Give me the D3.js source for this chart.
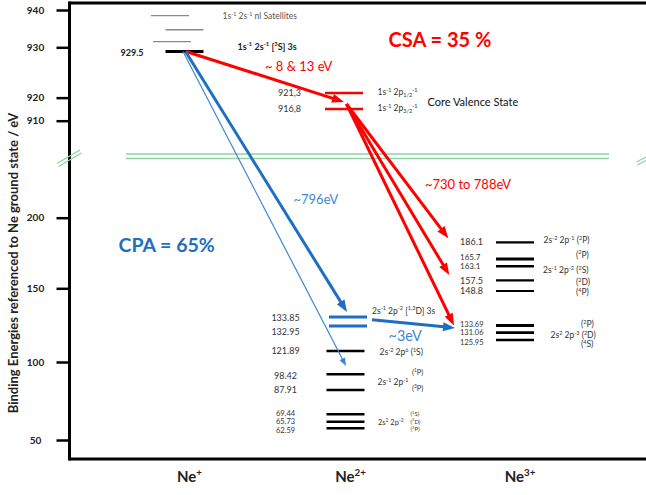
<!DOCTYPE html>
<html><head><meta charset="utf-8">
<script src="https://cdn.jsdelivr.net/npm/d3@7"></script>
<style>body{margin:0;background:#fff}svg{display:block;font-family:Lato,"Open Sans",sans-serif}</style>
</head><body><svg id="c" width="646" height="495"></svg>
<script>
// ================= DATA =================
const ions = ["Ne+", "Ne2+", "Ne3+"];
const ionLabels = ["Ne^{+}", "Ne^{2+}", "Ne^{3+}"];
const upperTicks = [910, 920, 930, 940];
const lowerTicks = [50, 100, 150, 200];

const satelliteEnergies = [938.5, 934.7, 931.5];
const ne1Energies = [929.5];
const ne1Labels = ["929.5"];
const coreValenceEnergies = [921.3, 916.8];
const coreValenceLabels = ["921,3", "916,8"];
const coreValenceConfigs = ["1s^{-1} 2p_{1/2}^{-1}", "1s^{-1} 2p_{3/2}^{-1}"];
const ne2DoubleEnergies = [133.85, 132.95];
const ne2Energies = [121.89, 98.42, 87.91, 69.44, 65.73, 62.59];
const ne3Energies = [186.1, 165.7, 163.1, 157.5, 148.8, 133.69, 131.06, 125.95];

const ne2Configs = [
  {e: 133.85, text: "2s^{-1} 2p^{-2} [^{1,3}D] 3s"},
  {e: 121.89, text: "2s^{-2} 2p^{6} (^{1}S)"},
  {e: 98.42,  text: "(^{1}P)"},
  {e: 93.0,   text: "2s^{-1} 2p^{-1}"},
  {e: 87.91,  text: "(^{3}P)"},
  {e: 65.73,  text: "2s^{2} 2p^{-2}"},
  {e: 69.44,  text: "(^{1}S)"},
  {e: 65.73,  text: "(^{1}D)"},
  {e: 62.59,  text: "(^{3}P)"}
];
const ne3Configs = [
  {e: 186.1,  text: "2s^{-2} 2p^{-1} (^{2}P)"},
  {e: 165.7,  text: "(^{2}P)"},
  {e: 163.1,  text: "2s^{-1} 2p^{-2} (^{2}S)"},
  {e: 157.5,  text: "(^{2}D)"},
  {e: 148.8,  text: "(^{4}P)"},
  {e: 133.69, text: "(^{2}P)"},
  {e: 131.06, text: "2s^{2} 2p^{-3} (^{2}D)"},
  {e: 125.95, text: "(^{4}S)"}
];

// arrows: [fromIon, fromEnergy, toIon, toEnergy]
const csaArrows = [
  ["Ne+", 929.5, "Ne2+", 918.8],
  ["Ne2+", 918.2, "Ne3+", 188.4],
  ["Ne2+", 918.2, "Ne3+", 159.6],
  ["Ne2+", 918.2, "Ne3+", 133.69]
];
const cpaArrows = [
  ["Ne+", 929.5, "Ne2+", 136.7, "thick"],
  ["Ne+", 929.5, "Ne2+", 99.5, "thin"],
  ["Ne2+", 133.8, "Ne3+", 132.4, "thick"]
];

// ================= LAYOUT =================
const svg = d3.select("#c");
const RED = "#ff0000", BLUE = "#1e6fc2", LBLUE = "#3d8ad8", TXT = "#333";
const axisX = 69.5, topY = 3, bottomY = 459, rightX = 646;

const x = d3.scaleOrdinal().domain(ions).range([184.5, 345.5, 515]);
// schematic (non-proportional) energy axes as drawn in the original
const yTop = d3.scaleLinear()
  .domain([910, 916.8, 921.3, 929.5, 930, 940])
  .range([120.7, 109, 93, 51.5, 47.3, 10]);
const yBot = d3.scaleLinear()
  .domain([50, 62.59, 65.73, 69.44, 87.91, 98.42, 100, 121.89, 125.95, 131.06, 132.95, 133.69, 133.85, 148.8, 150, 157.5, 163.1, 165.7, 186.1, 200])
  .range([440, 428.3, 421.7, 414.3, 390, 374.3, 362, 351, 340, 332.7, 326, 325.5, 317, 291, 288.3, 280.3, 266.3, 259, 242.3, 217.7]);
const y = e => e > 500 ? yTop(e) : yBot(e);

function rich(g, str, o) {
  const size = o.size;
  const t = g.append("text").attr("x", o.x).attr("y", o.y + size * 0.35)
    .attr("font-size", size).attr("text-anchor", o.anchor || "start")
    .attr("font-weight", o.weight || "normal").attr("fill", o.fill || TXT);
  const parts = str.split(/(\^\{[^}]*\}|_\{[^}]*\})/).filter(s => s.length);
  let shift = 0;
  parts.forEach(p => {
    let target = 0, fs = size, txt = p;
    if (p.startsWith("^{")) { target = -size * 0.4; fs = size * 0.65; txt = p.slice(2, -1); }
    else if (p.startsWith("_{")) { target = size * 0.22; fs = size * 0.65; txt = p.slice(2, -1); }
    t.append("tspan").attr("dy", (target - shift).toFixed(2)).attr("font-size", fs).text(txt);
    shift = target;
  });
  return t;
}

// ---- frame ----
svg.append("line").attr("x1", axisX).attr("x2", rightX).attr("y1", topY).attr("y2", topY)
  .attr("stroke", "#000").attr("stroke-width", 3);
svg.append("line").attr("x1", axisX).attr("x2", rightX).attr("y1", bottomY).attr("y2", bottomY)
  .attr("stroke", "#000").attr("stroke-width", 3);
svg.append("line").attr("x1", axisX).attr("x2", axisX).attr("y1", topY - 1.5).attr("y2", bottomY + 1.5)
  .attr("stroke", "#000").attr("stroke-width", 3);

// ---- y axes ----
function styleAxis(g) {
  g.select(".domain").remove();
  g.selectAll(".tick line").attr("stroke", "#000").attr("stroke-width", 2.5);
  g.selectAll(".tick text").attr("x", -34).attr("text-anchor", "middle")
    .attr("font-size", 10).attr("font-weight", "bold").attr("fill", "#222")
    .attr("font-family", "Lato, sans-serif");
}
svg.append("g").attr("transform", `translate(${axisX},0)`)
  .call(d3.axisLeft(yTop).tickValues(upperTicks).tickSize(13).tickFormat(d3.format("d"))).call(styleAxis);
svg.append("g").attr("transform", `translate(${axisX},0)`)
  .call(d3.axisLeft(yBot).tickValues(lowerTicks).tickSize(13).tickFormat(d3.format("d"))).call(styleAxis);

// y axis title
svg.append("text").attr("transform", "translate(12.5,263) rotate(-90)")
  .attr("text-anchor", "middle").attr("dominant-baseline", "central")
  .attr("font-size", 13).attr("font-weight", "bold").attr("fill", "#222")
  .text("Binding Energies referenced to Ne ground state / eV");

// ---- axis break ----
const GREEN = "#8ed3a5";
[154, 158.5].forEach(by => svg.append("line").attr("x1", 126).attr("x2", 609)
  .attr("y1", by).attr("y2", by).attr("stroke", GREEN).attr("stroke-width", 1.4));
[[57, 163.5, 80, 150], [58.5, 166.5, 81.5, 153]].forEach(s => svg.append("line")
  .attr("x1", s[0]).attr("y1", s[1]).attr("x2", s[2]).attr("y2", s[3]).attr("stroke", GREEN).attr("stroke-width", 1.4));
[[636.5, 162, 646, 157], [637.5, 165, 646, 160.5]].forEach(s => svg.append("line")
  .attr("x1", s[0]).attr("y1", s[1]).attr("x2", s[2]).attr("y2", s[3]).attr("stroke", GREEN).attr("stroke-width", 1.4));

// ---- ion labels ----
ions.forEach((ion, i) => rich(svg, ionLabels[i], {x: x(ion) + 5, y: 477, size: 15, anchor: "middle", weight: "bold", fill: "#222"}));

// ---- levels ----
const HW = 19;
function level(ion, e, color, w, dx = 0) {
  svg.append("line").attr("x1", x(ion) - HW + dx).attr("x2", x(ion) + HW + dx)
    .attr("y1", y(e)).attr("y2", y(e)).attr("stroke", color).attr("stroke-width", w);
}
const satShift = [-14.5, 0, -12.5];
satelliteEnergies.forEach((e, i) => level("Ne+", e, "#8a8a8a", 1.3, satShift[i]));
ne1Energies.forEach(e => level("Ne+", e, "#000", 3));
coreValenceEnergies.forEach(e => level("Ne2+", e, RED, 2.5, -1.5));
ne2DoubleEnergies.forEach(e => level("Ne2+", e, BLUE, 3, 2.5));
ne2Energies.forEach(e => level("Ne2+", e, "#000", 2.6));
const ne3W = [2.2, 3, 2.4, 2.2, 2.2, 2.8, 2.8, 2.4];
ne3Energies.forEach((e, i) => level("Ne3+", e, "#000", ne3W[i]));

// ---- numeric labels ----
ne1Energies.forEach((e, i) => rich(svg, ne1Labels[i], {x: x("Ne+") - 41, y: y(e) + 1.8, size: 9, anchor: "end", weight: "bold", fill: "#222"}));
coreValenceEnergies.forEach((e, i) => rich(svg, coreValenceLabels[i], {x: x("Ne2+") - 67.5, y: y(e) - 0.5, size: 9}));
coreValenceEnergies.forEach((e, i) => rich(svg, coreValenceConfigs[i], {x: x("Ne2+") + 32, y: y(e) - 0.8, size: 8.5}));
rich(svg, "Core Valence State", {x: x("Ne2+") + 82, y: (y(coreValenceEnergies[0]) + y(coreValenceEnergies[1])) / 2 + 1.5, size: 11, fill: "#111"});
rich(svg, "1s^{-1} 2s^{-1} nl Satellites", {x: x("Ne+") + 38, y: y(satelliteEnergies[0]) + 0.5, size: 8.5, fill: "#555"});
rich(svg, "1s^{-1} 2s^{-1} [^{3}S] 3s", {x: x("Ne+") + 53, y: y(ne1Energies[0]) - 4.8, size: 9, weight: "bold", fill: "#222"});

const ne2Nums = ne2DoubleEnergies.concat(ne2Energies);
const ne2NumDy = [0.5, 6, 0.3, 1.4, 0.3, -1, 0, 2.5];
const ne2NumSize = [9, 9, 9, 9, 9, 7.5, 7.5, 7.5];
ne2Nums.forEach((e, i) => rich(svg, d3.format(".2f")(e), {x: x("Ne2+") - 60, y: y(e) + ne2NumDy[i], size: ne2NumSize[i], anchor: "middle"}));
const ne3NumDy = [0, -1.5, 0, 0.3, 0, -1.5, -0.3, 2.3];
const ne3NumSize = [9, 8, 8, 9, 9, 7.5, 7.5, 7.5];
ne3Energies.forEach((e, i) => rich(svg, e >= 135 ? d3.format(".1f")(e) : d3.format(".2f")(e),
  {x: x("Ne3+") - 55, y: y(e) + ne3NumDy[i], size: ne3NumSize[i]}));

const ne2CfgOff = [[26.5, -6.3, 8.5], [34, 1, 8.5], [66.5, -2, 7.5], [32, 0, 8.5], [66.5, -1.3, 7.5], [32.5, 0.5, 7.5], [65, -0.5, 6], [65, 0, 6], [65, 0.5, 6]];
ne2Configs.forEach((c, i) => rich(svg, c.text, {x: x("Ne2+") + ne2CfgOff[i][0], y: y(c.e) + ne2CfgOff[i][1], size: ne2CfgOff[i][2]}));
const ne3CfgOff = [[28.5, -2.3], [61, -4.3], [28, 3.7], [61, 2], [61, 1.3], [66, -1.2], [35.5, 2.3], [66, 4.3]];
ne3Configs.forEach((c, i) => rich(svg, c.text, {x: x("Ne3+") + ne3CfgOff[i][0], y: y(c.e) + ne3CfgOff[i][1], size: 8.5}));

// ---- arrows ----
function arrow(x1, y1, x2, y2, color, w, L, W) {
  const dx = x2 - x1, dy = y2 - y1, len = Math.hypot(dx, dy), ux = dx / len, uy = dy / len;
  const bx = x2 - ux * L, by = y2 - uy * L;
  svg.append("line").attr("x1", x1).attr("y1", y1).attr("x2", x2 - ux * L * 0.7).attr("y2", y2 - uy * L * 0.7)
    .attr("stroke", color).attr("stroke-width", w);
  svg.append("path").attr("d", `M${x2},${y2}L${bx - uy * W / 2},${by + ux * W / 2}L${bx + uy * W / 2},${by - ux * W / 2}Z`)
    .attr("fill", color);
}
const csaDx = [[1.5, -1.5], [1, -66.7], [1, -65.7], [1, -61]];
csaArrows.forEach((a, i) => arrow(x(a[0]) + csaDx[i][0], y(a[1]), x(a[2]) + csaDx[i][1], y(a[3]), RED, 3, 12, 9));
const cpaDx = [[1, 1.5], [-1.5, 0.5], [26.5, -60]];
cpaArrows.forEach((a, i) => {
  const thick = a[4] === "thick";
  arrow(x(a[0]) + cpaDx[i][0], y(a[1]), x(a[2]) + cpaDx[i][1], y(a[3]),
    thick ? BLUE : "#3b85d2", thick ? 3 : 1.2, thick ? 12 : 8, thick ? 9 : 6);
});

// ---- annotations ----
rich(svg, "CSA = 35 %", {x: 388.5, y: 40, size: 20, weight: "bold", fill: RED});
rich(svg, "~ 8 & 13 eV", {x: 265, y: 66.5, size: 13, fill: RED});
rich(svg, "~730 to 788eV", {x: 425, y: 184.5, size: 13, fill: RED});
rich(svg, "CPA = 65%", {x: 118.5, y: 245.5, size: 19.5, weight: "bold", fill: BLUE});
rich(svg, "~796eV", {x: 293.5, y: 199.5, size: 13, fill: LBLUE});
rich(svg, "~3eV", {x: 388.5, y: 336, size: 14.5, fill: LBLUE});
</script></body></html>
